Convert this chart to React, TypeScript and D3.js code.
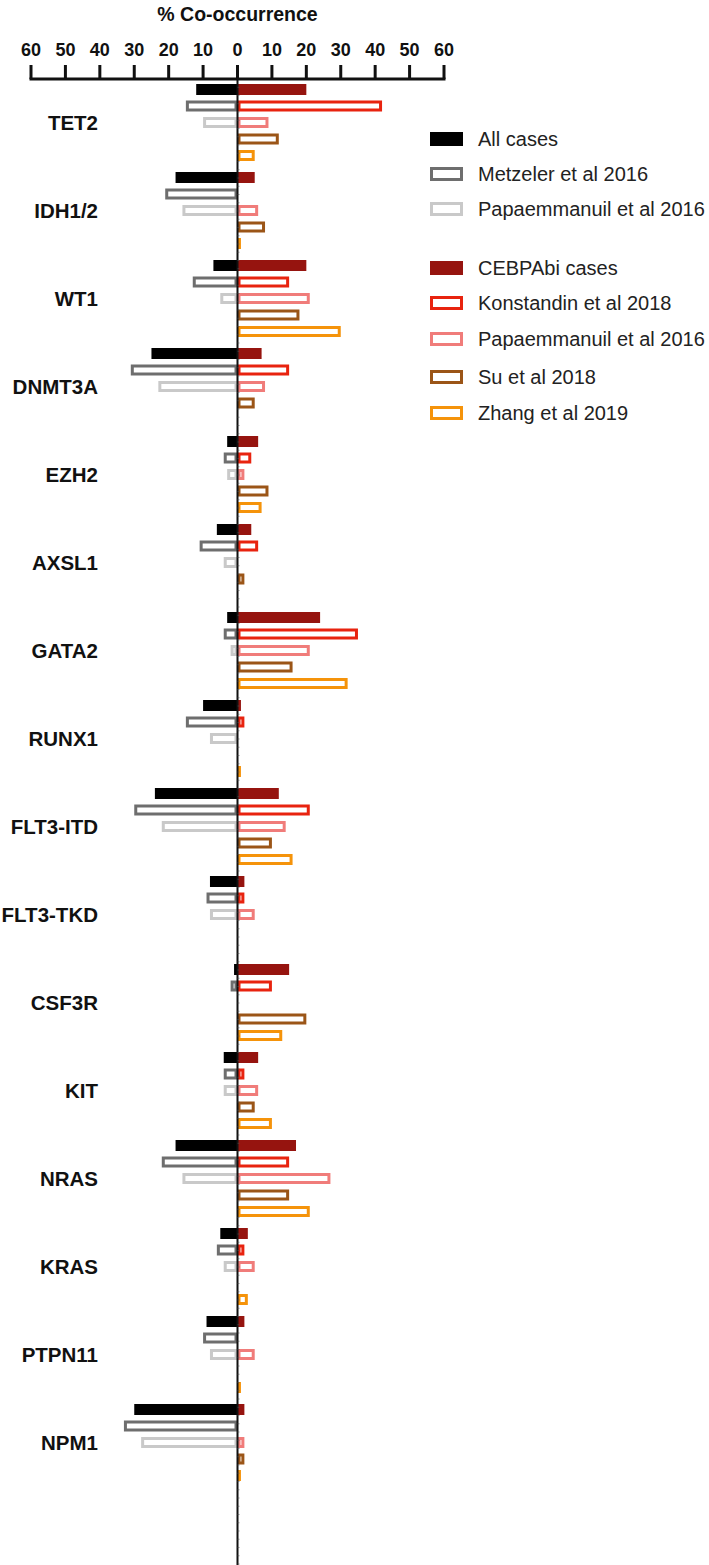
import React from "react";
import * as d3 from "d3";

const genes = ["TET2", "IDH1/2", "WT1", "DNMT3A", "EZH2", "AXSL1", "GATA2", "RUNX1", "FLT3-ITD", "FLT3-TKD", "CSF3R", "KIT", "NRAS", "KRAS", "PTPN11", "NPM1"];

// Left side (all AML cases)
const allCases = [12, 18, 7, 25, 3, 6, 3, 10, 24, 8, 1, 4, 18, 5, 9, 30];
const metzeler2016 = [15, 21, 13, 31, 4, 11, 4, 15, 30, 9, 2, 4, 22, 6, 10, 33];
const papaemmanuilAll = [10, 16, 5, 23, 3, 4, 2, 8, 22, 8, 0, 4, 16, 4, 8, 28];

// Right side (CEBPAbi cases)
const cebpaBi = [20, 5, 20, 7, 6, 4, 24, 1, 12, 2, 15, 6, 17, 3, 2, 2];
const konstandin2018 = [42, 0, 15, 15, 4, 6, 35, 2, 21, 2, 10, 2, 15, 2, 0, 0];
const papaemmanuilCebpa = [9, 6, 21, 8, 2, 0, 21, 0, 14, 5, 0, 6, 27, 5, 5, 2];
const su2018 = [12, 8, 18, 5, 9, 2, 16, 0, 10, 0, 20, 5, 15, 0, 0, 2];
const zhang2019 = [5, 1, 30, 0, 7, 0, 32, 1, 16, 0, 13, 10, 21, 3, 1, 1];

const tickValues = [-60, -50, -40, -30, -20, -10, 0, 10, 20, 30, 40, 50, 60];

type Series = { name: string; values: number[]; side: -1 | 1; row: number; color: string; filled: boolean };

const series: Series[] = [
  { name: "All cases", values: allCases, side: -1, row: 0, color: "#000000", filled: true },
  { name: "Metzeler et al 2016", values: metzeler2016, side: -1, row: 1, color: "#6e6e6e", filled: false },
  { name: "Papaemmanuil et al 2016", values: papaemmanuilAll, side: -1, row: 2, color: "#c9c9c9", filled: false },
  { name: "CEBPAbi cases", values: cebpaBi, side: 1, row: 0, color: "#96140f", filled: true },
  { name: "Konstandin et al 2018", values: konstandin2018, side: 1, row: 1, color: "#e8230f", filled: false },
  { name: "Papaemmanuil et al 2016", values: papaemmanuilCebpa, side: 1, row: 2, color: "#f07c7a", filled: false },
  { name: "Su et al 2018", values: su2018, side: 1, row: 3, color: "#9b5517", filled: false },
  { name: "Zhang et al 2019", values: zhang2019, side: 1, row: 4, color: "#f5930a", filled: false },
];

const legendY = [139, 174, 209, 268, 303, 339, 377, 413];

const W = 709;
const H = 1565;
const FONT = "'Liberation Sans', Arial, Helvetica, sans-serif";

export default function App() {
  const x = d3.scaleLinear().domain([-60, 60]).range([31, 444]);
  const groupStep = 88;
  const y0 = 81.25;
  const yGene = d3.scaleBand<string>().domain(genes).range([y0, y0 + groupStep * genes.length]).paddingInner(0).paddingOuter(0);
  const yRow = d3.scaleBand<number>().domain([0, 1, 2, 3, 4]).range([0, 82.5]).paddingInner(1 / 3).paddingOuter(1 / 6);
  const bh = yRow.bandwidth();
  const sw = 3;
  const axisY = 79;
  const x0 = x(0);

  const minorTicks: number[] = d3.range(axisY + 8.25, H, 8.25);

  return (
    <svg width={W} height={H} style={{ position: "absolute", left: 0, top: 0, display: "block", background: "#fff" }} fontFamily={FONT}>
      <rect x={0} y={0} width={W} height={H} fill="#fff" />
      {/* Title */}
      <text x={x0} y={21} textAnchor="middle" fontSize={19.5} fontWeight="bold" fill="#111">% Co-occurrence</text>
      {/* Top axis */}
      {tickValues.map((t) => (
        <g key={t}>
          <line x1={x(t)} x2={x(t)} y1={65} y2={axisY} stroke="#111" strokeWidth={3} />
          <text x={x(t)} y={55.5} textAnchor="middle" fontSize={18} fontWeight="bold" fill="#111">{Math.abs(t)}</text>
        </g>
      ))}
      <line x1={x(-60) - 1.5} x2={x(60) + 1.5} y1={axisY} y2={axisY} stroke="#111" strokeWidth={3} />

      {/* Bars */}
      {series.map((s, si) =>
        s.values.map((v, gi) => {
          if (v <= 0) return null;
          const gy = (yGene(genes[gi]) as number) + (yRow(s.row) as number);
          const xa = s.side < 0 ? x(-v) : x0;
          const xb = s.side < 0 ? x0 : x(v);
          const w = xb - xa;
          if (s.filled) {
            return <rect key={`${si}-${gi}`} x={xa} y={gy} width={w} height={bh} fill={s.color} />;
          }
          const iw = Math.max(w - sw, 0.01);
          return (
            <rect key={`${si}-${gi}`} x={xa + sw / 2} y={gy + sw / 2} width={iw} height={bh - sw} fill="#fff" stroke={s.color} strokeWidth={sw} />
          );
        })
      )}

      {/* Center axis */}
      <line x1={x0} x2={x0} y1={axisY} y2={H} stroke="#111" strokeWidth={2} />
      {minorTicks.map((t, i) => (
        <line key={i} x1={x0} x2={x0 + 2} y1={t} y2={t} stroke="#555" strokeWidth={0.6} />
      ))}

      {/* Gene labels */}
      {genes.map((g) => (
        <text key={g} x={98} y={(yGene(g) as number) + 41.25 + 7} textAnchor="end" fontSize={20.5} fontWeight="bold" fill="#111">{g}</text>
      ))}

      {/* Legend */}
      {series.map((s, i) => (
        <g key={i}>
          {s.filled ? (
            <rect x={430} y={legendY[i] - 7} width={33} height={14} fill={s.color} />
          ) : (
            <rect x={431.5} y={legendY[i] - 5.5} width={30} height={11} fill="#fff" stroke={s.color} strokeWidth={3} />
          )}
          <text x={478} y={legendY[i] + 7} fontSize={20} fill="#222">{s.name}</text>
        </g>
      ))}
    </svg>
  );
}
